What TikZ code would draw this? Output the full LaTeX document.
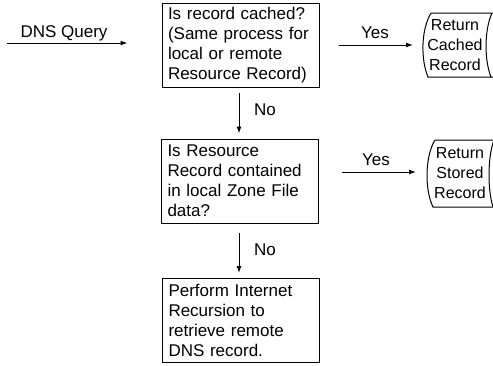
\documentclass[tikz,border=0pt]{standalone}
\usepackage{fontspec}
\setmainfont{Liberation Sans}
\usetikzlibrary{arrows.meta}
\begin{document}
\begin{tikzpicture}[x=1pt,y=-1pt,
  font=\fontsize{17}{20}\selectfont,
  line width=1pt,
  box/.style={draw, minimum width=157pt, minimum height=84pt, text width=145pt, align=left, inner sep=0pt},
  arr/.style={-{Latex[length=7pt,width=5pt]}},
  lbl/.style={inner sep=0pt},
  store/.style={draw},
  stxt/.style={align=center, inner sep=0pt, font=\fontsize{16}{20}\selectfont}]
\useasboundingbox (0,0) rectangle (493,365);

% decision and process boxes
\node[box] (box1) at (240.5,45.5) {Is record cached?\\(Same process for\\local or remote\\Resource Record)};
\node[box] (box2) at (240,181) {Is Resource\\Record contained\\in local Zone File\\data?};
\node[box] (box3) at (241,320.5) {Perform Internet\\Recursion to\\retrieve remote\\DNS record.};

% stored-data shapes
\draw[store] (431,13) -- (497,13)
  (492,13) .. controls (484.2,30) and (484.2,60) .. (491,77)
  (497,77) -- (428,77) .. controls (420.8,60) and (420.8,30) .. (431,13);
\node[stxt] (ret1) at (455,45) {Return\\Cached\\Record};
\coordinate (in1) at (423,45);

\draw[store] (435,140) -- (499,140)
  (494,140) .. controls (487.5,157) and (487.5,190) .. (493,207)
  (499,207) -- (433,207) .. controls (424.7,190) and (424.7,157) .. (435,140);
\node[stxt] (ret2) at (460,173) {Return\\Stored\\Record};
\coordinate (in2) at (427,172);

% connectors
\coordinate (q) at (7,43);
\draw[arr, shorten >=34pt] (q) -- (box1.west |- q);
\node[lbl] (lq) at (64,33) {DNS Query};

\draw[arr, shorten <=19pt, shorten >=10pt] (box1.east |- in1) -- (in1);
\node[lbl] (ly1) at (375,33) {Yes};

\draw[arr, shorten <=5pt, shorten >=5pt] (box1.south -| 239,0) -- (box2.north -| 239,0);
\node[lbl] (ln1) at (265,110) {No};

\draw[arr, shorten <=23pt, shorten >=11pt] (box2.east |- in2) -- (in2);
\node[lbl] (ly2) at (376,160) {Yes};

\draw[arr, shorten <=9pt, shorten >=5pt] (box2.south -| 239,0) -- (box3.north -| 239,0);
\node[lbl] (ln2) at (265,250) {No};
\end{tikzpicture}
\end{document}
